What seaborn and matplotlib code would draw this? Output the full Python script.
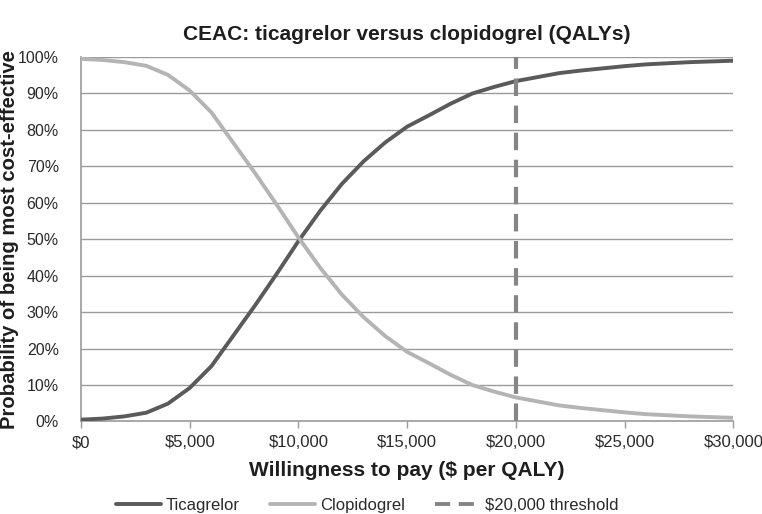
"""Recreate the CEAC chart: ticagrelor versus clopidogrel."""

import matplotlib.pyplot as plt
import matplotlib.ticker as mticker
import pandas as pd
import seaborn as sns


# Willingness to pay, $ per QALY
wtp = list(range(0, 31000, 1000))

# Probability of being most cost-effective (%)
ticagrelor = [0.5, 0.8, 1.4, 2.4, 4.9, 9.2, 15.2, 23.5, 31.8, 40.5, 49.5,
              57.8, 65.2, 71.4, 76.6, 80.9, 84.0, 87.2, 90.0, 91.8, 93.4,
              94.5, 95.6, 96.3, 96.9, 97.5, 98.0, 98.3, 98.6, 98.8, 99.0]
clopidogrel = [99.5, 99.2, 98.6, 97.6, 95.1, 90.8, 84.8, 76.5, 68.2, 59.5, 50.5,
               42.2, 34.8, 28.6, 23.4, 19.1, 16.0, 12.8, 10.0, 8.2, 6.6,
               5.5, 4.4, 3.7, 3.1, 2.5, 2.0, 1.7, 1.4, 1.2, 1.0]

threshold = 20000
series_names = ["Ticagrelor", "Clopidogrel"]
series_colors = ["#5a5a5a", "#b4b4b4"]
threshold_color = "#858585"

x_ticks = list(range(0, 30001, 5000))
y_ticks = list(range(0, 101, 10))


def build_frame() -> pd.DataFrame:
    """Long-form table of both curves."""
    frames = []
    for name, values in zip(series_names, [ticagrelor, clopidogrel]):
        frames.append(pd.DataFrame({"wtp": wtp, "prob": values, "strategy": name}))
    return pd.concat(frames, ignore_index=True)


def main() -> None:
    sns.set_theme(style="white")
    plt.rcParams["font.family"] = ["Liberation Sans", "DejaVu Sans"]

    fig = plt.figure(figsize=(7.62, 5.14), dpi=100)
    ax = fig.add_axes([0.1063, 0.180, 0.856, 0.709])

    for y in y_ticks[1:]:
        ax.axhline(y, color="#9a9a9a", linewidth=1.0, zorder=0)

    data = build_frame()
    sns.lineplot(
        data=data,
        x="wtp",
        y="prob",
        hue="strategy",
        hue_order=series_names,
        palette=series_colors,
        linewidth=2.8,
        ax=ax,
        legend=False,
        zorder=3,
    )
    ax.axvline(threshold, color=threshold_color, linewidth=3.0,
               dashes=(4.2, 2.3), zorder=4)

    ax.set_xlim(0, 30000)
    ax.set_ylim(0, 100)
    ax.set_xticks(x_ticks)
    ax.set_yticks(y_ticks)
    ax.xaxis.set_major_formatter(mticker.FuncFormatter(lambda v, _: f"${v:,.0f}"))
    ax.yaxis.set_major_formatter(mticker.FuncFormatter(lambda v, _: f"{v:.0f}%"))
    ax.tick_params(axis="x", bottom=True, length=5, width=1, color="#9a9a9a",
                   labelsize=12, labelcolor="#2a2a2a", pad=5)
    ax.tick_params(axis="y", left=False, labelsize=11.5, labelcolor="#2a2a2a", pad=10)

    for side in ["top", "right"]:
        ax.spines[side].set_visible(False)
    for side in ["left", "bottom"]:
        ax.spines[side].set_color("#9a9a9a")
        ax.spines[side].set_linewidth(1.2)

    ax.set_title("CEAC: ticagrelor versus clopidogrel (QALYs)", fontsize=15,
                 fontweight="bold", color="#1e1e1e", pad=12)
    ax.set_xlabel("Willingness to pay ($ per QALY)", fontsize=15,
                  fontweight="bold", color="#1e1e1e", labelpad=8)
    ax.set_ylabel("Probability of being most cost-effective", fontsize=14.6,
                  fontweight="bold", color="#1e1e1e")
    ax.yaxis.set_label_coords(-0.095, 0.5)

    handles = [
        plt.Line2D([], [], color=series_colors[0], linewidth=2.8),
        plt.Line2D([], [], color=series_colors[1], linewidth=2.8),
        plt.Line2D([], [], color=threshold_color, linewidth=2.8, dashes=(3.9, 2.2)),
    ]
    labels = series_names + [f"${threshold:,} threshold"]
    fig.legend(handles, labels, loc="center", bbox_to_anchor=(0.482, 0.017),
               ncol=3, frameon=False, fontsize=12, handlelength=2.7,
               columnspacing=1.8, handletextpad=0.3, labelcolor="#2a2a2a")

    fig.savefig("out.png", dpi=100)
    plt.close(fig)


if __name__ == "__main__":
    main()
